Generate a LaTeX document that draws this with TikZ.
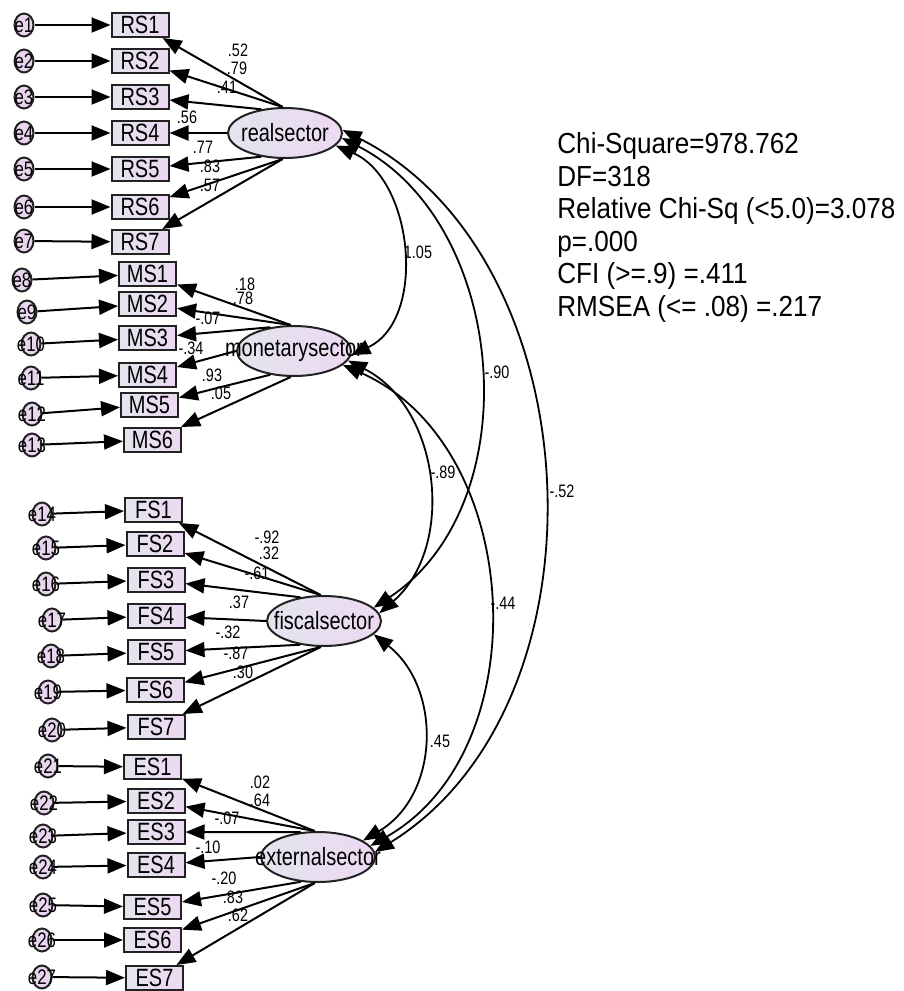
\documentclass[tikz,border=0pt]{standalone}
\usepackage{fontspec}
\setmainfont{Liberation Sans}[FakeStretch=0.8]
\newfontfamily\statfont{Liberation Sans}[FakeStretch=0.9]
\usetikzlibrary{arrows.meta,shapes.geometric}

\definecolor{boxL}{HTML}{E2E5EE}
\definecolor{boxR}{HTML}{EDD8F2}
\definecolor{errC}{HTML}{E9D5EF}
\definecolor{edgeC}{HTML}{222222}

\tikzset{
  obs/.style={rectangle, draw=edgeC, line width=1pt, left color=boxL, right color=boxR,
    minimum width=28.5pt, minimum height=12pt, inner sep=0pt, font=\fontsize{12.5}{12.5}\selectfont},
  lat/.style={ellipse, draw=edgeC, line width=1pt, left color=boxL, right color=boxR,
    minimum width=57pt, minimum height=25pt, inner sep=0pt},
  err/.style={ellipse, draw=edgeC, line width=1pt, fill=errC,
    minimum width=9.5pt, minimum height=11.5pt, inner sep=0pt},
  errtxt/.style={font=\fontsize{10.5}{10.5}\selectfont, inner sep=0pt},
  lattxt/.style={font=\fontsize{12.5}{12.5}\selectfont, inner sep=0pt},
  coef/.style={font=\fontsize{9}{9}\selectfont, inner sep=0pt},
  arr/.style={line width=1pt, -{Triangle[length=9.5pt,width=7.5pt]}},
  cov/.style={line width=0.9pt, {Triangle[length=9.5pt,width=7.5pt]}-{Triangle[length=9.5pt,width=7.5pt]}},
}

\begin{document}
\begin{tikzpicture}[x=0.5pt,y=0.5pt]
\useasboundingbox (0,0) rectangle (904,-991);

% latent variables
\node[lat] (re) at (285,-133) {};
\node[lat] (ms) at (294,-351) {};
\node[lat] (fs) at (324,-621) {};
\node[lat] (es) at (318,-857) {};
\node[lattxt] (ret) at (re) {realsector};
\node[lattxt] (mst) at (ms) {monetarysector};
\node[lattxt] (fst) at (fs) {fiscalsector};
\node[lattxt] (est) at (es) {externalsector};

% observed variables
\foreach \n/\x/\y in {1/140/25,2/140/61,3/140/97,4/140/133,5/140/169,6/140/207,7/140/242}
  \node[obs] (RS\n) at (\x,-\y) {RS\n};
\foreach \n/\x/\y in {1/147.5/274,2/147.5/304,3/147.5/338,4/147.5/375,5/149.5/405,6/152.5/440}
  \node[obs] (MS\n) at (\x,-\y) {MS\n};
\foreach \n/\x/\y in {1/153.5/510,2/155/544,3/156/580,4/156/616,5/156/652,6/155/690,7/156/727}
  \node[obs] (FS\n) at (\x,-\y) {FS\n};
\foreach \n/\x/\y in {1/152.5/767,2/156/801,3/156/832,4/156/865,5/152.5/907,6/152.5/940,7/154.5/978}
  \node[obs] (ES\n) at (\x,-\y) {ES\n};

% error terms
\foreach \n/\x/\y in {1/24/25,2/24/61,3/24/97,4/24/133,5/24/169,6/24/207,7/24/241,
  8/22/280,9/27/312,10/31/344,11/31/378,12/32/414,13/32/445,
  14/42/514,15/46/548,16/46/584,17/52/620,18/51/656,19/48/692,20/52/730,
  21/48/766,22/44/803,23/43/836,24/43/867,25/43/905,26/42/940,27/42/977}
{
  \node[err] (e\n) at (\x,-\y) {};
  \node[errtxt] (et\n) at (e\n) {e\n};
}

% error arrows
\foreach \n/\b in {1/RS1,2/RS2,3/RS3,4/RS4,5/RS5,6/RS6,7/RS7,
  8/MS1,9/MS2,10/MS3,11/MS4,12/MS5,13/MS6,
  14/FS1,15/FS2,16/FS3,17/FS4,18/FS5,19/FS6,20/FS7,
  21/ES1,22/ES2,23/ES3,24/ES4,25/ES5,26/ES6,27/ES7}
  \draw[arr] (e\n) -- (\b);

% loadings
\draw[arr] (re.95) -- (RS1);
\draw[arr] (re.95) -- (RS2);
\draw[arr] (re.135) -- (RS3);
\draw[arr] (re.180) -- (RS4);
\draw[arr] (re.-135) -- (RS5);
\draw[arr] (re.-95) -- (RS6);
\draw[arr] (re.-95) -- (RS7);

\draw[arr] (ms.97) -- (MS1);
\draw[arr] (ms.97) -- (MS2);
\draw[arr] (ms.135) -- (MS3);
\draw[arr] (ms.180) -- (MS4);
\draw[arr] (ms.-135) -- (MS5);
\draw[arr] (ms.-97) -- (MS6);

\draw[arr] (fs.97) -- (FS1);
\draw[arr] (fs.97) -- (FS2);
\draw[arr] (fs.135) -- (FS3);
\draw[arr] (fs.180) -- (FS4);
\draw[arr] (fs.-135) -- (FS5);
\draw[arr] (fs.-97) -- (FS6);
\draw[arr] (fs.-97) -- (FS7);

\draw[arr] (es.97) -- (ES1);
\draw[arr] (es.97) -- (ES2);
\draw[arr] (es.125) -- (ES3);
\draw[arr] (es.180) -- (ES4);
\draw[arr] (es.-125) -- (ES5);
\draw[arr] (es.-97) -- (ES6);
\draw[arr] (es.-97) -- (ES7);

% covariances
\draw[cov] (re.-14) .. controls (414,-179) and (427,-320) .. (ms.-4);
\draw[cov] (re.-5) .. controls (508,-223) and (531,-504) .. (fs.15);
\draw[cov] (re.3) .. controls (594,-257) and (615,-703) .. (es.5);
\draw[cov] (ms.-10) .. controls (441,-408) and (456,-547) .. (fs.8);
\draw[cov] (ms.-16) .. controls (525,-444) and (540,-750) .. (es.12);
\draw[cov] (fs.-15) .. controls (442,-688) and (440,-795) .. (es.20);

% coefficient labels
\node[coef] (c1) at (238,-50) {.52};
\node[coef] (c2) at (237,-68) {.79};
\node[coef] (c3) at (227,-87) {.41};
\node[coef] (c4) at (187,-117) {.56};
\node[coef] (c5) at (203,-147) {.77};
\node[coef] (c6) at (210,-166) {.83};
\node[coef] (c7) at (210,-185) {.57};

\node[coef] (c8) at (245,-284) {.18};
\node[coef] (c9) at (243,-298) {.78};
\node[coef] (c10) at (208,-318) {-.07};
\node[coef] (c11) at (191,-348) {-.34};
\node[coef] (c12) at (212,-375) {.93};
\node[coef] (c13) at (221,-393) {.05};

\node[coef] (c14) at (267,-537) {-.92};
\node[coef] (c15) at (269,-553) {.32};
\node[coef] (c16) at (257,-573) {-.61};
\node[coef] (c17) at (239,-602) {.37};
\node[coef] (c18) at (228,-632) {-.32};
\node[coef] (c19) at (236,-653) {-.87};
\node[coef] (c20) at (243,-672) {.30};

\node[coef] (c21) at (260,-782) {.02};
\node[coef] (c22) at (260,-800) {.64};
\node[coef] (c23) at (227,-818) {-.07};
\node[coef] (c24) at (208,-847) {-.10};
\node[coef] (c25) at (224,-878) {-.20};
\node[coef] (c26) at (233,-897) {.83};
\node[coef] (c27) at (238,-915) {.62};

\node[coef] (k1) at (418,-252) {1.05};
\node[coef] (k2) at (497,-372) {-.90};
\node[coef] (k3) at (562,-491) {-.52};
\node[coef] (k4) at (443,-472) {-.89};
\node[coef] (k5) at (503,-603) {-.44};
\node[coef] (k6) at (440,-741) {.45};

% fit statistics
\node[anchor=north west, align=left, inner sep=0pt,
  font=\statfont\fontsize{14.5}{16.3}\selectfont] (stats) at (557,-132)
  {Chi-Square=978.762\\DF=318\\Relative Chi-Sq (<5.0)=3.078\\p=.000\\CFI (>=.9) =.411\\RMSEA (<= .08) =.217};
\end{tikzpicture}
\end{document}
